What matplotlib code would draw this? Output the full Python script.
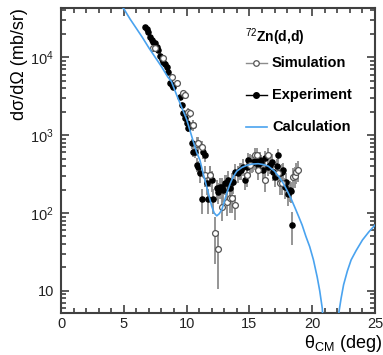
import matplotlib
matplotlib.use("Agg")
import matplotlib.pyplot as plt
import numpy as np
from matplotlib.ticker import FixedLocator, FixedFormatter, LogLocator, MultipleLocator, NullFormatter

plt.rcParams['font.family'] = ['Liberation Sans', 'DejaVu Sans']
plt.rcParams['mathtext.fontset'] = 'custom'
plt.rcParams['mathtext.rm'] = 'Liberation Sans'
plt.rcParams['mathtext.it'] = 'Liberation Sans'
plt.rcParams['mathtext.bf'] = 'Liberation Sans:bold'

# --- Experiment (filled) ---
exp_x = [6.68, 6.82, 6.95, 7.08, 7.21, 7.34, 7.48, 7.61, 7.74, 7.88, 8.01, 8.14,
         8.28, 8.41, 8.54, 8.67, 8.80, 8.93, 9.47, 9.60, 9.73, 9.86, 10.00, 10.13,
         10.40, 10.53, 10.66, 10.80, 10.92, 11.06, 11.19, 11.32, 11.46, 11.59, 11.72,
         11.85, 11.99, 12.12, 12.39, 12.51, 12.65, 12.78, 12.91, 13.05, 13.18, 13.31,
         13.44, 13.58, 13.71, 13.84, 14.10, 14.24, 14.37, 14.50, 14.64, 14.77, 14.90,
         15.04, 15.17, 15.30, 15.43, 15.70, 15.83, 15.96, 16.10, 16.23, 16.49, 16.62,
         16.76, 16.89, 17.02, 17.16, 17.29, 17.42, 17.56, 17.69, 17.82, 17.95, 18.08,
         18.22, 18.35, 18.43]
exp_y = [24700, 23000, 21300, 18500, 16700, 15500, 15100, 13700, 12500, 10500, 9500, 8800,
         8200, 7600, 6500, 4650, 4400, 4200, 3100, 2440, 1900, 1650, 1420, 1250,
         785, 612, 600, 420, 393, 323, 150, 612, 560, 240, 150,
         307, 265, 150, 207, 187, 215, 217, 197, 240, 240, 265,
         207, 250, 250, 339, 323, 356, 356, 394, 265, 393, 474,
         455, 440, 455, 470, 412, 480, 450, 356, 503, 394, 420,
         455, 340, 292, 400, 555, 330, 338, 356, 218, 250, 178,
         197, 190, 71]
exp_rel = [0.06, 0.06, 0.06, 0.06, 0.06, 0.06, 0.06, 0.06, 0.06, 0.07, 0.07, 0.07,
           0.07, 0.07, 0.08, 0.08, 0.08, 0.08, 0.10, 0.10, 0.10, 0.10, 0.12, 0.12,
           0.15, 0.15, 0.15, 0.2, 0.2, 0.25, 0.35, 0.2, 0.2, 0.3, 0.35,
           0.3, 0.3, 0.35, 0.3, 0.3, 0.3, 0.3, 0.3, 0.3, 0.3, 0.3,
           0.3, 0.3, 0.3, 0.25, 0.25, 0.25, 0.25, 0.25, 0.25, 0.25, 0.25,
           0.25, 0.25, 0.25, 0.25, 0.25, 0.25, 0.25, 0.25, 0.25, 0.25, 0.25,
           0.25, 0.25, 0.25, 0.25, 0.2, 0.25, 0.25, 0.25, 0.3, 0.3, 0.3,
           0.3, 0.3, 0.45]

# --- Simulation (open) ---
sim_x = [7.34, 7.48, 8.14, 8.80, 9.20, 9.73, 9.86, 10.13, 10.26, 10.47, 10.53, 10.80,
         10.92, 11.19, 11.46, 11.85, 12.25, 12.51, 12.78, 13.18, 13.44, 13.58, 13.84,
         14.77, 15.04, 15.43, 15.57, 15.70, 16.23, 16.49, 17.29, 17.42, 17.56,
         18.48, 18.62, 18.75, 18.88]
sim_y = [13100, 13000, 9700, 5600, 4630, 3440, 3270, 2000, 1900, 1370, 1350, 780,
         785, 700, 307, 307, 55, 35, 120, 140, 155, 154, 126,
         307, 413, 555, 555, 355, 265, 555, 323, 240, 240,
         292, 300, 338, 356]
sim_rel = [0.06, 0.06, 0.07, 0.08, 0.08, 0.10, 0.10, 0.12, 0.12, 0.15, 0.15, 0.2,
           0.2, 0.2, 0.3, 0.3, 0.6, 0.7, 0.35, 0.35, 0.35, 0.35, 0.35,
           0.3, 0.3, 0.25, 0.25, 0.25, 0.3, 0.25, 0.3, 0.3, 0.3,
           0.3, 0.3, 0.3, 0.3]

# --- Calculation curve ---
calc_x = [4.5, 5.0, 5.5, 6.0, 6.5, 7.0, 7.5, 8.0, 8.5, 8.8, 9.2, 9.6, 10.0, 10.26,
          10.53, 10.8, 11.06, 11.3, 11.5, 11.75, 12.0, 12.2, 12.4, 12.6, 12.8, 13.0,
          13.2, 13.45, 13.7, 14.0, 14.4, 14.8, 15.2, 15.7, 16.1, 16.5, 17.0, 17.4,
          17.7, 18.0, 18.3, 18.6, 18.9, 19.2, 19.5, 19.8, 20.1, 20.4, 20.6, 20.8,
          20.95, 21.4, 21.9, 22.1, 22.3, 22.5, 22.8, 23.1, 23.5, 24.0, 24.5, 25.0]
calc_y = [50000, 42000, 31000, 23500, 17800, 13200, 10000, 7600, 5600, 4850, 3300, 2300,
          1600, 1160, 830, 600, 478, 330, 250, 175, 122, 100, 92, 98, 110, 140,
          180, 235, 290, 345, 385, 410, 425, 430, 420, 400, 345, 285,
          240, 195, 155, 120, 92, 70, 50, 37, 25, 15, 10, 6,
          2.5, 0.05, 2.5, 5, 8, 12, 18, 25, 33, 45, 57, 70]

fig = plt.figure(figsize=(3.83, 3.55), dpi=100)
ax = fig.add_axes([0.1593, 0.1183, 0.8198, 0.8592])

grey = '#8c8c8c'
ax.errorbar(sim_x, sim_y, yerr=np.array(sim_rel) * np.array(sim_y), fmt='none',
            ecolor=grey, elinewidth=1.3, zorder=1)
ax.errorbar(exp_x, exp_y, yerr=np.array(exp_rel) * np.array(exp_y), fmt='none',
            ecolor=grey, elinewidth=1.3, zorder=1)
ax.plot(exp_x, exp_y, 'o', color='black', ms=3.7, zorder=3)
ax.plot(sim_x, sim_y, 'o', mfc='white', mec='#555555', mew=0.9, ms=4.2, zorder=3)
ax.plot(calc_x, calc_y, color='#4aa3ef', lw=1.2, zorder=4)

ax.set_yscale('log')
ax.set_xlim(0, 25)
ax.set_ylim(5.2, 43000)

ax.xaxis.set_major_locator(MultipleLocator(5))
ax.xaxis.set_minor_locator(MultipleLocator(1))
ax.yaxis.set_major_locator(FixedLocator([10, 100, 1000, 10000]))
ax.yaxis.set_major_formatter(FixedFormatter(['10', '$10^2$', '$10^3$', '$10^4$']))
ax.yaxis.set_minor_locator(LogLocator(base=10, subs=np.arange(2, 10)))
ax.yaxis.set_minor_formatter(NullFormatter())

for s in ax.spines.values():
    s.set_color('#404040')
    s.set_linewidth(1.5)
ax.tick_params(which='both', direction='in', top=True, right=True, color='#404040',
               width=1.2, labelsize=10.5, labelcolor='#222222')
ax.tick_params(which='major', length=6)
ax.tick_params(which='minor', length=3.5)
ax.tick_params(axis='x', pad=3)
ax.tick_params(axis='y', pad=5)

ax.set_ylabel('dσ/dΩ (mb/sr)', fontsize=13, loc='top')
ax.yaxis.set_label_coords(-0.105, 1.0)
fig.text(0.998, 0.02, r'θ$_{\mathrm{CM}}$ (deg)', fontsize=13, ha='right', va='baseline')

# legend drawn by hand
ax.text(0.682, 0.905, r'$^{72}$Zn(d,d)', transform=ax.transAxes, fontsize=10,
        fontweight='bold', ha='center', va='center')
ly = [0.820, 0.715, 0.610]
labels = ['Simulation', 'Experiment', 'Calculation']
ax.plot([0.589, 0.656], [ly[0], ly[0]], transform=ax.transAxes, color=grey, lw=1)
ax.plot([0.6225], [ly[0]], 'o', transform=ax.transAxes, mfc='white', mec='#555555',
        mew=0.9, ms=4)
ax.plot([0.589, 0.656], [ly[1], ly[1]], transform=ax.transAxes, color='black', lw=1)
ax.plot([0.6225], [ly[1]], 'o', transform=ax.transAxes, color='black', ms=4)
ax.plot([0.589, 0.656], [ly[2], ly[2]], transform=ax.transAxes, color='#4aa3ef', lw=1.2)
for yy, lab in zip(ly, labels):
    ax.text(0.672, yy, lab, transform=ax.transAxes, fontsize=10.5, fontweight='bold',
            ha='left', va='center')

fig.savefig('out.png', dpi=100)
